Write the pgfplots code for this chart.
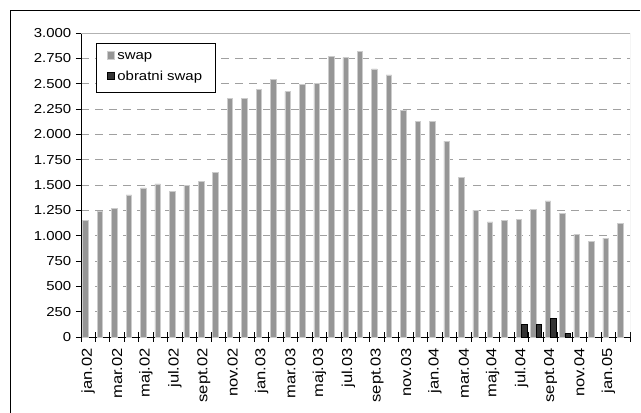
\documentclass[border=0pt]{standalone}
\usepackage{fontspec}
\setmainfont{Liberation Sans}[FakeStretch=1.15]
\usepackage{pgfplots}
\pgfplotsset{compat=1.18}
\definecolor{barg}{HTML}{969696}
\definecolor{bard}{HTML}{333333}
\definecolor{gridc}{HTML}{A0A0A0}
\pgfplotsset{sqlegend/.style={legend image code/.code={\draw[##1, line width=0.4pt] (0pt,-1.4pt) rectangle (5.4pt,4.0pt);}}}
\begin{document}
\begin{tikzpicture}
\useasboundingbox (0,0) rectangle (480.75pt,-309pt);
\draw[black, line width=0.75pt] (7.875pt,-400pt) -- (7.875pt,-7.875pt) -- (480pt,-7.875pt);
\begin{axis}[
  at={(60.75pt,-252.75pt)}, anchor=south west,
  scale only axis, width=411.75pt, height=228pt,
  xmin=-0.5, xmax=37.5, ymin=0, ymax=3000,
  ybar, bar width=0.38,
  axis lines*=left,
  axis line style={black, line width=0.75pt},
  font=\fontsize{9.75pt}{11pt}\selectfont,
  /pgf/number format/1000 sep={.},
  /pgf/number format/assume math mode=true,
  ytick={0,250,...,3000},
  ymajorgrids,
  grid style={gridc, line width=0.75pt, dash pattern=on 6pt off 4.5pt},
  major tick length=3.75pt,
  tick align=outside,
  tick style={black, line width=0.75pt},
  xtick={0,2,...,36},
  xticklabels={jan.02,mar.02,maj.02,jul.02,sept.02,nov.02,jan.03,mar.03,maj.03,jul.03,sept.03,nov.03,jan.04,mar.04,maj.04,jul.04,sept.04,nov.04,jan.05},
  xtick style={draw=none},
  xticklabel style={rotate=90, anchor=east, font=\fontsize{10.8pt}{12pt}\selectfont, xshift=-1pt},
  extra x ticks={-0.5,0.5,...,37.5},
  extra x tick labels={},
  extra x tick style={tick align=center, major tick length=7pt, xtick style={draw=black}, grid=none},
  legend style={at={(0.027,0.968)}, anchor=north west, draw=black, line width=0.75pt,
    legend cell align=left, font=\fontsize{9.75pt}{11pt}\selectfont,
    inner xsep=8pt, inner ysep=5pt, row sep=3.5pt},
]
\addplot[fill=barg, draw=white!80!black, line width=0.4pt, bar shift=-0.19, sqlegend] coordinates {
(0,1150) (1,1240) (2,1270) (3,1403) (4,1472) (5,1512) (6,1440) (7,1499) (8,1535) (9,1621)
(10,2358) (11,2358) (12,2447) (13,2540) (14,2421) (15,2496) (16,2504) (17,2767) (18,2757) (19,2816)
(20,2645) (21,2586) (22,2237) (23,2128) (24,2128) (25,1934) (26,1575) (27,1252) (28,1136) (29,1150)
(30,1163) (31,1259) (32,1344) (33,1222) (34,1015) (35,945) (36,975) (37,1124)};
\addlegendentry{swap}
\addplot[fill=bard, draw=black, line width=0.4pt, bar shift=0.19, sqlegend] coordinates {
(30,125) (31,125) (32,185) (33,35)};
\addlegendentry{obratni swap}
\draw[gray!60, line width=0.75pt] (rel axis cs:0,1) -- (rel axis cs:1,1) -- (rel axis cs:1,0);
\end{axis}
\end{tikzpicture}
\end{document}
